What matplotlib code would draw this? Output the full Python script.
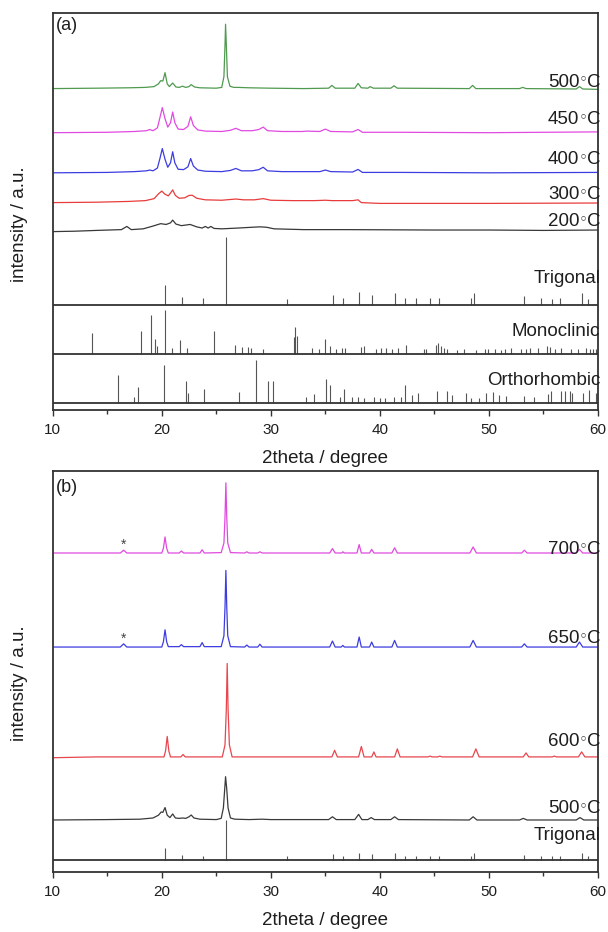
import matplotlib
matplotlib.use('Agg')
import matplotlib.pyplot as plt
import matplotlib.transforms as mtransforms
from matplotlib.ticker import MultipleLocator

plt.rcParams['font.family'] = ['Liberation Sans', 'DejaVu Sans']

# ---------------- data ----------------
# reference stick patterns (2theta, relative intensity 0-100)
trig_pos = [20.3, 21.9, 23.8, 25.9, 31.5, 35.7, 36.6, 38.1, 39.3, 41.4, 42.3, 43.3,
            44.6, 45.4, 48.4, 48.6, 53.2, 54.8, 55.8, 56.5, 58.5, 59.1]
trig_int = [29, 12, 10, 100, 9, 15, 10, 18.5, 15, 18, 10, 10,
            10, 10, 10, 18, 13, 10, 9, 10, 17, 9]

mono_pos = [13.6, 18.1, 19.0, 19.4, 19.6, 20.3, 20.9, 21.7, 22.3, 24.8, 26.7, 27.4,
            27.9, 28.2, 29.3, 32.1, 32.2, 32.4, 33.8, 34.4, 35.0, 35.4, 36.0, 36.5,
            36.8, 38.3, 38.5, 39.6, 40.1, 40.6, 41.1, 41.7, 42.4, 44.0, 44.2, 45.1,
            45.3, 45.6, 45.9, 46.2, 47.1, 47.7, 48.8, 49.6, 49.9, 50.6, 51.1, 51.5,
            52.0, 52.9, 53.4, 53.8, 54.5, 55.3, 55.6, 56.1, 56.6, 57.5, 58.2, 58.9,
            59.3, 59.5, 59.8]
mono_int = [48, 53, 90, 35, 18, 100, 14, 31, 14, 52, 21, 15,
            15, 14, 11, 39, 61, 40, 14, 11, 35, 18, 11, 14,
            14, 16, 19, 11, 14, 14, 11, 14, 20, 11, 11, 21,
            24, 19, 14, 11, 10, 11, 10, 11, 11, 11, 10, 11,
            14, 11, 11, 14, 14, 19, 16, 11, 14, 11, 11, 14,
            11, 11, 11]

ortho_pos = [16.0, 17.5, 17.8, 20.2, 22.2, 22.4, 23.9, 27.1, 28.6, 29.7, 30.2, 33.2,
             34.0, 35.1, 35.4, 36.3, 36.7, 37.4, 38.0, 38.5, 39.5, 40.0, 40.5, 41.3,
             41.9, 42.3, 42.9, 43.5, 45.2, 46.2, 46.6, 47.9, 48.4, 49.1, 49.7, 50.4,
             50.9, 51.6, 53.2, 54.1, 55.4, 55.7, 56.6, 57.0, 57.4, 57.6, 58.6, 59.2, 59.8]
ortho_int = [64, 14, 37, 87, 51, 22, 32, 25, 100, 50, 51, 14,
             20, 55, 42, 15, 32, 14, 14, 12, 15, 12, 12, 14,
             15, 42, 18, 24, 28, 28, 19, 22, 12, 12, 22, 25,
             19, 16, 16, 14, 20, 27, 27, 28, 27, 22, 23, 29, 23]

# measured patterns, panel (a): (2theta, intensity above own baseline, a.u.)
a500 = [(10, 0), (14, 0.1), (17, 0.2), (18.5, 0.3), (19.3, 0.5), (19.7, 1.2), (19.9, 2.0),
        (20.1, 1.9), (20.3, 4.0), (20.5, 1.2), (20.7, 0.5), (21.0, 1.4), (21.3, 0.4),
        (21.6, 0.3), (21.9, 0.6), (22.2, 0.3), (22.5, 0.5), (22.7, 1.0), (23.0, 0.4),
        (23.5, 0.2), (25.0, 0.1), (25.5, 0.3), (25.7, 3.0), (25.8, 11.0), (25.85, 16.2),
        (25.92, 11.0), (26.02, 3.0), (26.25, 0.6), (26.6, 0.3), (27.0, 0.3), (28, 0.2),
        (30, 0.1), (33, 0.0), (35.3, 0.1), (35.6, 0.8), (35.9, 0.1), (37.7, 0.1),
        (38.0, 1.3), (38.3, 0.2), (38.9, 0.1), (39.1, 0.5), (39.4, 0.1), (41.0, 0.1),
        (41.3, 0.7), (41.6, 0.1), (48.2, 0.0), (48.5, 0.8), (48.8, 0.0), (52.8, 0.0),
        (53.1, 0.3), (53.4, 0.0), (58.0, -0.1), (58.3, 0.5), (58.6, -0.1), (60, -0.2)]
a450 = [(10, 0), (15, 0.1), (17.5, 0.3), (18.6, 0.5), (18.9, 0.8), (19.2, 0.5), (19.6, 1.2),
        (19.85, 4.0), (20.05, 6.3), (20.3, 3.5), (20.55, 1.4), (20.8, 2.5), (21.0, 5.2),
        (21.2, 2.5), (21.5, 0.9), (22.0, 0.8), (22.4, 1.6), (22.65, 4.0), (22.9, 1.8),
        (23.3, 0.7), (24, 0.4), (25.5, 0.3), (26.3, 0.6), (26.8, 1.1), (27.3, 0.5),
        (28.3, 0.5), (28.9, 0.8), (29.3, 1.4), (29.7, 0.5), (31, 0.3), (32.9, 0.3),
        (33.3, 0.4), (34.5, 0.3), (35.0, 0.9), (35.5, 0.3), (37.5, 0.2), (38.0, 0.8),
        (38.4, 0.1), (42, 0.1), (50, 0), (60, 0.2)]
a400 = [(10, 0), (15, 0.1), (17.5, 0.3), (18.6, 0.5), (18.9, 0.7), (19.2, 0.5), (19.6, 1.2),
        (19.85, 3.8), (20.05, 6.1), (20.3, 3.4), (20.55, 1.4), (20.8, 2.5), (21.0, 5.3),
        (21.2, 2.5), (21.5, 0.9), (22.0, 0.8), (22.4, 1.5), (22.65, 3.6), (22.9, 1.7),
        (23.3, 0.7), (24, 0.4), (25.5, 0.3), (26.3, 0.6), (26.8, 1.1), (27.3, 0.5),
        (28.3, 0.5), (28.9, 0.8), (29.3, 1.4), (29.7, 0.5), (31, 0.3), (33, 0.3),
        (34.5, 0.3), (35.0, 0.7), (35.5, 0.3), (37.5, 0.2), (38.0, 0.85), (38.4, 0.1),
        (42, 0.1), (50, 0), (60, 0.1)]
a300 = [(10, 0), (14, 0.1), (17, 0.3), (18.5, 0.5), (19.3, 1.0), (19.7, 2.2), (20.0, 2.9),
        (20.3, 2.1), (20.6, 1.7), (20.8, 2.4), (21.0, 3.2), (21.25, 1.8), (21.6, 1.1),
        (22.1, 1.2), (22.5, 1.8), (22.8, 1.85), (23.2, 1.1), (24, 0.7), (25.5, 0.6),
        (26.8, 0.9), (27.5, 0.7), (28.5, 0.7), (29.3, 1.0), (30.0, 0.6), (32, 0.5),
        (34, 0.5), (35, 0.6), (35.6, 0.5), (37.5, 0.5), (38.0, 0.7), (38.3, 0.0),
        (40, -0.2), (50, -0.2), (60, -0.1)]
a200 = [(10, 0), (12, 0.1), (14, 0.3), (16.3, 0.5), (16.8, 1.3), (17.2, 0.5), (18.3, 0.7),
        (19.2, 1.4), (19.9, 2.0), (20.4, 1.8), (20.8, 2.2), (21.0, 2.9), (21.3, 1.9),
        (21.8, 1.5), (22.6, 1.8), (23.2, 1.2), (23.7, 0.9), (24.0, 1.3), (24.25, 0.9),
        (24.5, 1.3), (24.8, 0.8), (25.5, 0.7), (27, 0.9), (28.3, 1.1), (29, 1.2),
        (29.6, 1.1), (30.3, 0.7), (33, 0.5), (37, 0.5), (45, 0.4), (50, 0.4), (55, 0.3),
        (60, 0.4)]

# measured patterns, panel (b)
b700 = [(10, 0), (16.2, 0), (16.5, 0.7), (16.8, 0), (20.0, 0), (20.15, 1.2), (20.3, 4.0),
        (20.45, 1.2), (20.6, 0), (21.6, 0), (21.8, 0.5), (22.0, 0), (23.5, 0), (23.7, 0.8),
        (23.9, 0), (25.45, 0.1), (25.7, 2.5), (25.8, 9), (25.88, 17.5), (25.96, 9),
        (26.05, 2.5), (26.3, 0.1), (27.6, 0), (27.8, 0.3), (28.0, 0), (28.8, 0), (29.0, 0.3),
        (29.2, 0), (35.4, 0), (35.65, 1.1), (35.9, 0), (36.5, 0), (36.6, 0.3), (36.75, 0),
        (37.9, 0), (38.1, 2.1), (38.3, 0), (39.05, 0), (39.25, 0.9), (39.45, 0), (41.1, 0),
        (41.35, 1.3), (41.6, 0), (48.25, 0), (48.55, 1.5), (48.85, 0), (53.0, 0),
        (53.25, 0.7), (53.5, 0), (58.0, 0), (58.3, 0.9), (58.6, 0), (60, 0)]
b650 = [(10, 0), (16.2, 0), (16.5, 0.8), (16.8, 0), (20.0, 0), (20.15, 1.3), (20.3, 4.3),
        (20.45, 1.3), (20.6, 0.1), (21.6, 0.1), (21.8, 0.6), (22.0, 0.1), (23.5, 0.1),
        (23.7, 1.1), (23.9, 0.1), (25.45, 0.1), (25.7, 2.8), (25.8, 10), (25.88, 19.1),
        (25.96, 10), (26.05, 2.8), (26.3, 0.1), (27.6, 0), (27.8, 0.5), (28.0, 0),
        (28.8, 0), (29.0, 0.7), (29.2, 0), (35.4, 0), (35.65, 1.5), (35.9, 0), (36.45, 0),
        (36.6, 0.4), (36.75, 0), (37.9, 0), (38.1, 2.5), (38.3, 0), (39.05, 0),
        (39.25, 1.25), (39.45, 0), (41.1, 0), (41.35, 1.65), (41.6, 0), (48.25, 0),
        (48.55, 1.65), (48.85, 0), (53.0, 0), (53.25, 0.8), (53.5, 0), (58.0, 0),
        (58.3, 1.25), (58.6, 0), (60, 0)]
b600 = [(10, -0.2), (14, 0), (20.2, 0), (20.35, 1.5), (20.5, 5.1), (20.65, 1.5), (20.8, 0),
        (21.75, 0), (21.95, 0.6), (22.15, 0), (25.55, 0), (25.8, 3), (25.92, 12),
        (26.0, 23.3), (26.08, 12), (26.2, 3), (26.45, 0), (35.6, 0), (35.85, 1.65),
        (36.1, 0), (38.05, 0), (38.3, 2.6), (38.55, 0), (39.25, 0), (39.45, 1.25),
        (39.65, 0), (41.35, 0), (41.6, 2.0), (41.85, 0), (44.4, 0), (44.6, 0.2), (44.8, 0),
        (45.3, 0), (45.5, 0.2), (45.7, 0), (48.5, 0), (48.8, 2.0), (49.1, 0), (53.15, 0),
        (53.4, 1.0), (53.65, 0), (55.8, 0), (56.0, 0.2), (56.2, 0), (58.2, 0), (58.5, 1.25),
        (58.8, 0), (60, 0)]
b500 = [(10, 0), (15, 0.1), (18, 0.2), (19.2, 0.5), (19.7, 1.2), (19.95, 2.0), (20.1, 1.9),
        (20.3, 3.1), (20.5, 1.2), (20.75, 0.6), (21.0, 1.5), (21.25, 0.5), (21.6, 0.4),
        (21.9, 0.5), (22.2, 0.4), (22.5, 0.8), (22.7, 1.25), (22.95, 0.5), (23.5, 0.2),
        (25.0, 0.1), (25.45, 0.4), (25.65, 3.0), (25.78, 8), (25.85, 10.8), (25.95, 8),
        (26.08, 3.0), (26.3, 0.5), (26.7, 0.2), (28, 0.1), (29.2, 0.2), (30, 0.1),
        (35.3, 0.1), (35.65, 0.8), (36.0, 0.1), (37.7, 0.1), (38.05, 1.4), (38.35, 0.1),
        (38.9, 0.1), (39.2, 0.6), (39.5, 0.1), (41.0, 0.1), (41.35, 0.8), (41.7, 0.1),
        (48.2, 0.0), (48.55, 0.8), (48.9, 0.0), (52.8, 0.0), (53.15, 0.4), (53.5, 0.0),
        (58.0, 0.0), (58.35, 0.6), (58.7, 0.0), (60, 0)]

temps_a = ['500', '450', '400', '300', '200']
temps_b = ['700', '650', '600', '500']
phase_names = ['Trigonal', 'Monoclinic', 'Orthorhombic']
star_pos = 16.5

# ---------------- style / layout ----------------
W, H = 608, 932
fig = plt.figure(figsize=(W / 100, H / 100), dpi=100)
LEFT, RIGHT = 52.7, 598.0


def make_axes(top_px, bottom_px):
    return fig.add_axes([LEFT / W, 1 - bottom_px / H, (RIGHT - LEFT) / W,
                         (bottom_px - top_px) / H])


ax_a = make_axes(12.7, 410.0)
ax_b = make_axes(471.0, 872.0)

FRAME = '#333333'
STICK = '#555555'
TXT = '#1e1e1e'
LABEL_FS = 13.5


def style(ax):
    ax.set_xlim(10, 60)
    ax.set_ylim(0, 100)
    ax.set_yticks([])
    ax.xaxis.set_major_locator(MultipleLocator(10))
    ax.xaxis.set_minor_locator(MultipleLocator(5))
    ax.tick_params(axis='x', which='major', direction='out', length=4, width=1.0,
                   color=FRAME, labelsize=11, pad=5, top=False, labelcolor=TXT)
    ax.tick_params(axis='x', which='minor', direction='out', length=3, width=1.0,
                   color=FRAME, top=False)
    for s in ax.spines.values():
        s.set_color(FRAME)
        s.set_linewidth(1.3)
    ax.set_xlabel('2theta / degree', fontsize=13.5, color=TXT)
    ax.set_ylabel('intensity / a.u.', fontsize=13.5, va='center', color=TXT)


def curve(ax, pts, base, color):
    xs = [p[0] for p in pts]
    ys = [base + p[1] for p in pts]
    ax.plot(xs, ys, color=color, lw=0.9, solid_joinstyle='round')


def sticks(ax, pos, inten, base, scale):
    ax.vlines(pos, base, [base + v * scale / 100 for v in inten], color=STICK, lw=0.8)
    ax.axhline(base, color=FRAME, lw=1.3)


def rlabel(ax, y, s):
    tr = mtransforms.blended_transform_factory(ax.transAxes, ax.transData)
    ax.text(1.004, y, s, transform=tr, ha='right', va='baseline', fontsize=LABEL_FS,
            color=TXT)


def temp_label(ax, y, t):
    # "500◦C" drawn as digits, a small ring, and C, kept tight like the original
    tr = mtransforms.blended_transform_factory(ax.transAxes, ax.transData)
    ax.text(1.004, y, 'C', transform=tr, ha='right', va='baseline', fontsize=LABEL_FS,
            color=TXT)
    ax.annotate('\u25e6', xy=(1.004, y), xycoords=tr, xytext=(-9.0, 1.3),
                textcoords='offset points', ha='right', va='baseline',
                fontsize=11, color=TXT, family='DejaVu Sans')
    ax.annotate(t, xy=(1.004, y), xycoords=tr, xytext=(-15.0, 0),
                textcoords='offset points', ha='right', va='baseline',
                fontsize=LABEL_FS, color=TXT)


# ---------------- panel (a) ----------------
style(ax_a)
cols_a = ['#4f9a4f', '#e04ae0', '#3c3ce0', '#e83c3c', '#383838']
bases_a = [80.9, 69.8, 59.7, 52.2, 44.9]
lab_y_a = [81.4, 71.9, 61.8, 53.2, 46.2]
for pts, b, c, ly, t in zip([a500, a450, a400, a300, a200], bases_a, cols_a, lab_y_a, temps_a):
    curve(ax_a, pts, b, c)
    temp_label(ax_a, ly, t)

sticks(ax_a, trig_pos, trig_int, 26.43, 17.1)
sticks(ax_a, mono_pos, mono_int, 14.1, 11.0)
sticks(ax_a, ortho_pos, ortho_int, 1.76, 10.9)
for ly, name in zip([31.9, 18.5, 6.3], phase_names):
    rlabel(ax_a, ly, name)
ax_a.text(0.006, 96.9, '(a)', transform=mtransforms.blended_transform_factory(
    ax_a.transAxes, ax_a.transData), ha='left', va='center', fontsize=13, color=TXT)
ax_a.yaxis.set_label_coords(-0.06, 0.468)
ax_a.xaxis.set_label_coords(0.5, -0.10)

# ---------------- panel (b) ----------------
style(ax_b)
cols_b = ['#e04ae0', '#3c3ce0', '#e8464e', '#3a3a3a']
bases_b = [79.55, 56.1, 28.7, 12.97]
lab_y_b = [79.4, 57.0, 31.3, 14.6]
for pts, b, c, ly, t in zip([b700, b650, b600, b500], bases_b, cols_b, lab_y_b, temps_b):
    curve(ax_b, pts, b, c)
    temp_label(ax_b, ly, t)
sticks(ax_b, trig_pos, trig_int, 2.99, 10.0)
rlabel(ax_b, 8.1, phase_names[0])
for yb in [80.5, 57.1]:
    ax_b.text(star_pos, yb, '*', ha='center', va='baseline', fontsize=10, color='#444444')
ax_b.text(0.006, 96.0, '(b)', transform=mtransforms.blended_transform_factory(
    ax_b.transAxes, ax_b.transData), ha='left', va='center', fontsize=13, color=TXT)
ax_b.yaxis.set_label_coords(-0.06, 0.471)
ax_b.xaxis.set_label_coords(0.5, -0.10)

fig.savefig('out.png', dpi=100, facecolor='white')
